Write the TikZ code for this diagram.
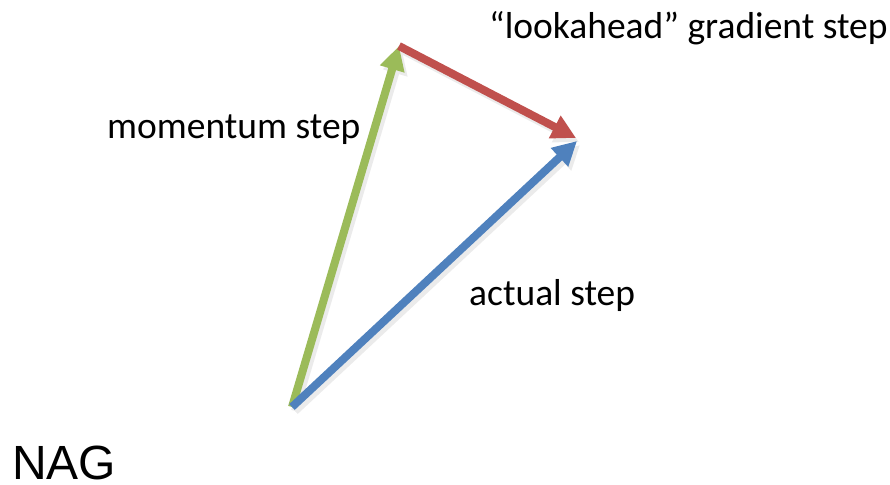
\documentclass[tikz,border=0pt]{standalone}
\usepackage{fontspec}
\setmainfont{Carlito}
\newfontfamily\nagfont{Liberation Sans}
\usetikzlibrary{arrows.meta}
\definecolor{ogreen}{RGB}{155,187,89}
\definecolor{ored}{RGB}{192,80,77}
\definecolor{oblue}{RGB}{79,129,189}
\tikzset{
  vec/.style={line width=8pt, -{Triangle[length=24pt,width=24pt]}},
  shadowvec/.style={line width=8pt, draw=black!8, fill=black!8, -{Triangle[length=24pt,width=24pt]}},
  lbl/.style={font=\fontsize{37.5}{40}\selectfont, inner sep=0pt, anchor=west}
}
\begin{document}
\begin{tikzpicture}[x=1pt,y=-1pt]
\useasboundingbox (0,0) rectangle (890,484);
\coordinate (O) at (292,407);
\coordinate (M) at (399,46);
\coordinate (R) at (576,138);
\coordinate (B) at (577,141);
% shadows
\draw[shadowvec] ([shift={(3,4)}]O) -- ([shift={(3,4)}]M);
\draw[shadowvec] ([shift={(3,4)}]M) -- ([shift={(3,4)}]R);
\draw[shadowvec] ([shift={(3,4)}]O) -- ([shift={(3,4)}]B);
% arrows
\draw[vec, draw=ogreen, fill=ogreen] (O) -- (M);
\draw[vec, draw=ored, fill=ored] (M) -- (R);
\draw[vec, draw=oblue, fill=oblue] (O) -- (B);
% labels
\node[lbl] (la) at (489,28) {“lookahead” gradient step};
\node[lbl] (lm) at (107,130) {momentum step};
\node[lbl] (lb) at (469,295) {actual step};
\node[inner sep=0pt, text depth=0pt, anchor=base west, font=\nagfont\fontsize{48}{52}\selectfont] (nag) at (12,479) {NAG};
\end{tikzpicture}
\end{document}
